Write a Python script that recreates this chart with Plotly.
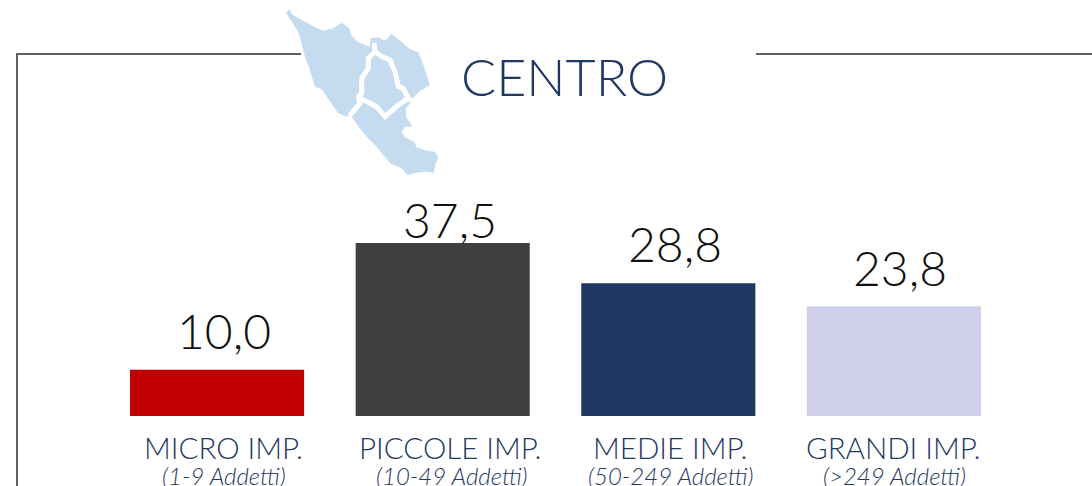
import plotly.graph_objects as go

categories = ["MICRO IMP.", "PICCOLE IMP.", "MEDIE IMP.", "GRANDI IMP."]
subtitles = ["(1-9 Addetti)", "(10-49 Addetti)", "(50-249 Addetti)", "(>249 Addetti)"]
values = [10.0, 37.5, 28.8, 23.8]
colors = ["#c00000", "#404040", "#1f3864", "#cfcfec"]
title_text = "CENTRO"

W, H = 1092, 486
INK = "#1f3864"
LIGHT = "Lato Light, Lato"

def px(x):
    return x / W

def py(y):
    return 1 - y / H

def zoom_path(pts, close=True):
    # decorative map drawn in paper space from the crop's coordinates
    s = "M" + " L".join(f"{px(270 + a / 3):.5f},{py(b / 3):.5f}" for a, b in pts)
    return s + (" Z" if close else "")

map_outline = [(48,38),(58,28),(68,45),(95,60),(115,70),(135,82),(162,92),(190,85),(215,68),(238,85),
    (245,108),(265,127),(298,140),(303,115),(325,112),(345,122),(365,102),(395,125),(420,148),(445,157),
    (462,200),(480,255),(450,272),(428,295),(420,310),(408,325),(408,350),(428,380),(405,380),(395,395),
    (405,412),(432,425),(440,442),(470,452),(495,455),(505,475),(495,495),(492,518),(465,515),(440,518),
    (412,525),(395,505),(360,490),(320,440),(290,410),(262,375),(245,350),(225,348),(205,340),(170,290),
    (155,268),(135,260),(120,210),(105,170),(85,95)]
border_a = [(312,128),(315,155),(295,175),(295,205),(275,235),(275,280),(265,290),(270,310),(238,348)]
border_b = [(270,295),(300,310),(320,320),(345,350),(385,315),(415,295),(400,265),(385,260),(375,215),(360,180),(335,170),(315,155)]
border_c = [(415,295),(432,306)]

fig = go.Figure(go.Bar(
    x=list(range(4)), y=values, width=174 / 225.5,
    marker=dict(color=colors, line=dict(width=0)), hoverinfo="skip",
))

shapes = [
    dict(type="path", xref="paper", yref="paper", path=zoom_path(map_outline),
         fillcolor="#c5dbf0", line=dict(width=0), layer="above"),
]
for b in (border_a, border_b, border_c):
    shapes.append(dict(type="path", xref="paper", yref="paper", path=zoom_path(b, False),
                       line=dict(color="white", width=5), layer="above"))
shapes.append(dict(type="path", xref="paper", yref="paper",
                   path=f"M{px(17)},0 L{px(17)},{py(54)} L{px(301)},{py(54)}",
                   line=dict(color="#606060", width=2), layer="below"))
shapes.append(dict(type="line", xref="paper", yref="paper", x0=px(756), x1=1, y0=py(54), y1=py(54),
                   line=dict(color="#606060", width=2), layer="below"))

annotations = [dict(text=title_text, xref="paper", yref="paper", x=px(564), y=py(76), showarrow=False,
                    font=dict(family=LIGHT, size=52, color=INK), xanchor="center", yanchor="middle")]
value_shift = [1, -15, 1, 0]
value_xshift = [7, 7, 7, 6]
label_shift = [6, 8, 2, 0]
for i, v in enumerate(values):
    annotations.append(dict(text=f"{v:.1f}".replace(".", ","), x=i, y=v, xref="x", yref="y", showarrow=False,
                            yanchor="bottom", yshift=8 + value_shift[i], xshift=value_xshift[i],
                            font=dict(family=LIGHT, size=48, color="#111111")))
    annotations.append(dict(text=categories[i], x=i, y=0, xref="x", yref="y", showarrow=False,
                            yanchor="middle", yshift=-31, xshift=label_shift[i],
                            font=dict(family=LIGHT, size=29.5, color=INK)))
    annotations.append(dict(text=f"<i>{subtitles[i]}</i>", x=i, y=0, xref="x", yref="y", showarrow=False,
                            yanchor="middle", yshift=-59, xshift=label_shift[i] + 1,
                            font=dict(family=LIGHT, size=24, color=INK)))

fig.update_layout(
    width=W, height=H, margin=dict(l=0, r=0, t=0, b=0),
    paper_bgcolor="white", plot_bgcolor="white", showlegend=False,
    xaxis=dict(domain=[104.25 / W, 1006.75 / W], range=[-0.5, 3.5], visible=False),
    yaxis=dict(domain=[(H - 416) / H, 1], range=[0, 416 / (173 / 37.5)], visible=False),
    shapes=shapes, annotations=annotations,
)
fig.write_html("out.html", config={"displayModeBar": False},
               post_script="document.body.style.margin='0';document.body.style.overflow='hidden';")
